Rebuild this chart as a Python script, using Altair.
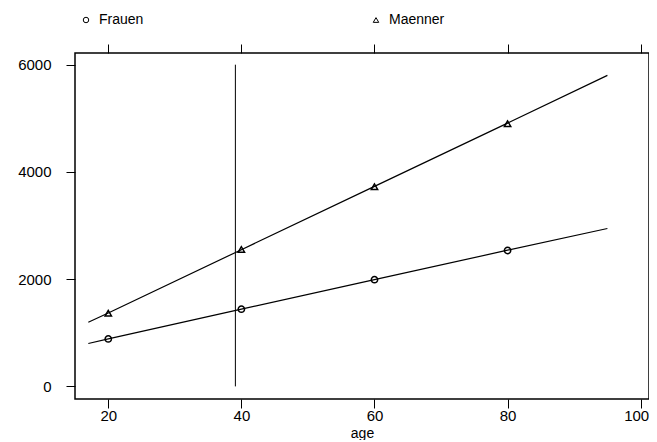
import altair as alt
import pandas as pd

# Observed points
ages_pts = [20, 40, 60, 80]
frauen_pts = [885, 1440, 1990, 2535]
maenner_pts = [1365, 2555, 3725, 4900]

# Fitted lines (read at several ages)
ages_line = [17, 20, 40, 60, 80, 95]
frauen_fit = [800, 885, 1440, 1990, 2540, 2945]
maenner_fit = [1195, 1370, 2550, 3730, 4910, 5800]

# Vertical reference line
vline_age = [39.1]
vline_y = [0]
vline_y2 = [6000]

groups = ["Frauen", "Maenner"]
x_ticks = [20, 40, 60, 80, 100]
y_ticks = [0, 2000, 4000, 6000]

pts = pd.DataFrame({
    "age": ages_pts * 2,
    "value": frauen_pts + maenner_pts,
    "group": [groups[0]] * 4 + [groups[1]] * 4,
})
lines = pd.DataFrame({
    "age": ages_line * 2,
    "value": frauen_fit + maenner_fit,
    "group": [groups[0]] * len(ages_line) + [groups[1]] * len(ages_line),
})
vl = pd.DataFrame({"age": vline_age, "y": vline_y, "y2": vline_y2})

FONT = "Liberation Sans"
xscale = alt.Scale(domain=[15, 101.25], nice=False, zero=False)
yscale = alt.Scale(domain=[-235, 6218], nice=False, zero=False)

xaxis = alt.Axis(values=x_ticks, title="age", grid=False, domain=False, format="d",
                 tickSize=9, tickColor="black", labelFontSize=15, labelFont=FONT,
                 labelColor="black", labelPadding=0, labelFlush=10,
                 labelFlushOffset=8, titleFont=FONT,
                 titleFontSize=14, titleFontWeight="normal", titleColor="black",
                 titleBaseline="bottom", titleY=41)
yaxis = alt.Axis(values=y_ticks, title=None, grid=False, domain=False, format="d",
                 tickSize=9, tickColor="black", labelFontSize=15, labelFont=FONT,
                 labelColor="black", labelPadding=15)
xaxis_top = alt.Axis(values=x_ticks, title=None, labels=False, grid=False,
                     domain=False, tickSize=9, tickColor="black", orient="top")
yaxis_right = alt.Axis(values=y_ticks, title=None, labels=False, grid=False,
                       domain=False, tickSize=5, tickColor="black", orient="right")

line_layer = alt.Chart(lines).mark_line(color="black", strokeWidth=1.2).encode(
    x=alt.X("age:Q", scale=xscale, axis=xaxis),
    y=alt.Y("value:Q", scale=yscale, axis=yaxis),
    detail="group:N",
)

point_layer = alt.Chart(pts).mark_point(filled=False, color="black",
                                        strokeWidth=1.5, size=40, opacity=1).encode(
    x=alt.X("age:Q", scale=xscale, axis=xaxis_top),
    y=alt.Y("value:Q", scale=yscale, axis=yaxis_right),
    shape=alt.Shape("group:N",
                    scale=alt.Scale(domain=groups, range=["circle", "triangle-up"]),
                    legend=alt.Legend(title=None, orient="none", direction="horizontal",
                                      legendX=4, legendY=-40, columnPadding=225,
                                      symbolSize=30, symbolStrokeColor="black",
                                      symbolStrokeWidth=1, symbolFillColor="transparent",
                                      labelFont=FONT, labelFontSize=14,
                                      labelColor="black", labelOffset=6)),
)

rule_layer = alt.Chart(vl).mark_rule(color="black", strokeWidth=1).encode(
    x=alt.X("age:Q", scale=xscale, axis=None),
    y=alt.Y("y:Q", scale=yscale, axis=None),
    y2="y2:Q",
)

chart = alt.layer(line_layer, point_layer, rule_layer).resolve_axis(
    x="independent", y="independent"
).properties(
    width=574, height=346,
    autosize=alt.AutoSizeParams(type="none"),
    padding={"left": 67, "top": 45, "right": 0, "bottom": 41},
    background="white",
).configure_view(stroke="black", strokeWidth=1.5)

chart.save("out.html", embed_options={"renderer": "svg", "actions": False})
